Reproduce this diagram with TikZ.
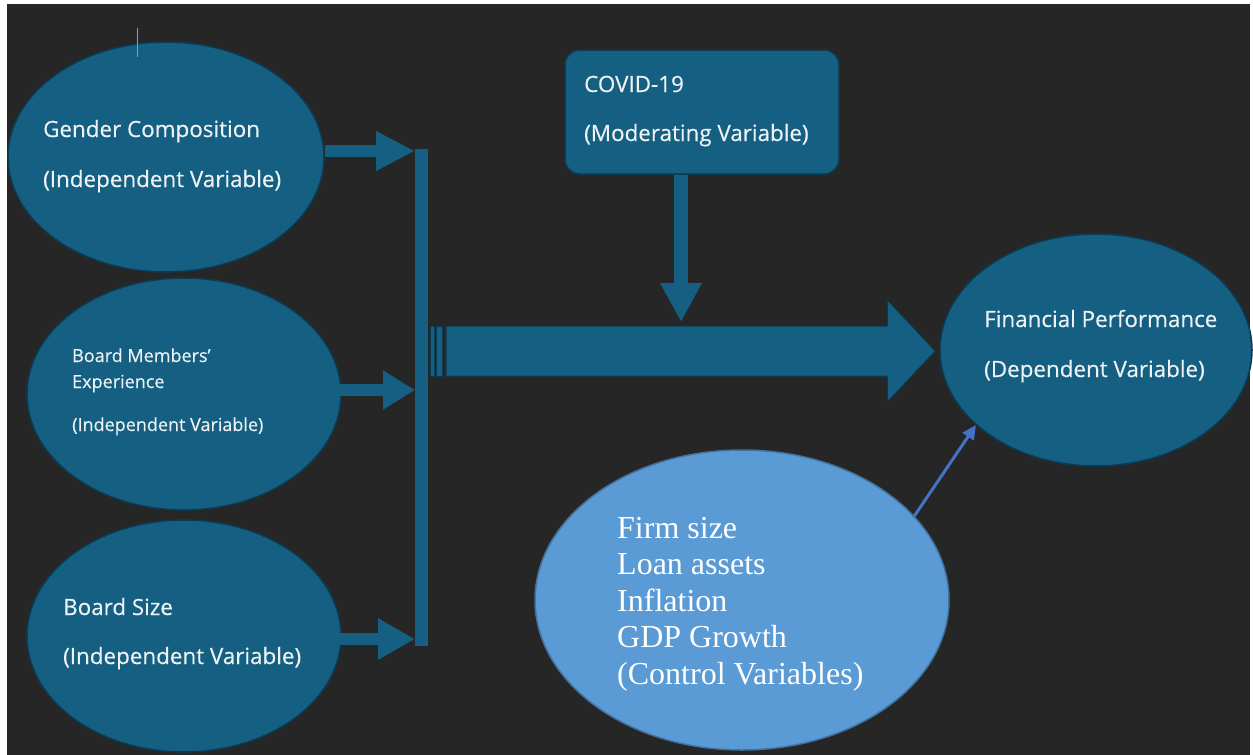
\documentclass[tikz,border=0pt]{standalone}
\usepackage{fontspec}
\setmainfont{Liberation Serif}
\newfontfamily\labelfont[FakeBold=0.3]{Open Sans}
\usetikzlibrary{shapes.geometric,arrows.meta,calc}

\definecolor{bgdark}{HTML}{262626}
\definecolor{tealfill}{HTML}{156082}
\definecolor{tealedge}{HTML}{0C3A50}
\definecolor{ctrlfill}{HTML}{5B9BD5}
\definecolor{ctrledge}{HTML}{41719C}
\definecolor{linkblue}{HTML}{4472C4}
\definecolor{lighttext}{HTML}{EEF2F5}

\begin{document}
\begin{tikzpicture}[x=1pt,y=-1pt,
  varell/.style={ellipse, fill=tealfill, draw=tealedge, line width=1.5pt, inner sep=0pt},
  vartext/.style={anchor=base west, inner sep=0pt, text=lighttext,
    font=\labelfont\fontsize{22.4}{27}\selectfont},
  smalltext/.style={vartext, font=\labelfont\fontsize{18}{22}\selectfont},
  ctrltext/.style={anchor=base west, inner sep=0pt, text=white,
    font=\fontsize{32}{36}\selectfont},
  feed/.style={tealfill, line width=#1},
  blockedge/.style={fill=tealfill, draw=tealedge, line width=1pt},
]
% canvas
\useasboundingbox (0,0) rectangle (1253,755);
\fill[white] (0,0) rectangle (1253,755);
\fill[bgdark] (7,4) rectangle (1250,755);

% independent variables
\node[varell, minimum width=316pt, minimum height=230pt] (gender) at (166,157) {};
\node[varell, minimum width=314pt, minimum height=232pt] (exper) at (184,394) {};
\node[varell, minimum width=314pt, minimum height=232pt] (bsize) at (184,636) {};

\node[vartext] (gender1) at (43,137) {Gender Composition};
\node[vartext] (gender2) at (43,187) {(Independent Variable)};
\node[smalltext] (exper1) at (72,362) {Board Members’};
\node[smalltext] (exper2) at (72,388) {Experience};
\node[smalltext] (exper3) at (72,431) {(Independent Variable)};
\node[vartext] (bsize1) at (63,615) {Board Size};
\node[vartext] (bsize2) at (63,664) {(Independent Variable)};

% collecting bar
\node[fill=tealfill, inner sep=0pt, minimum width=13pt, minimum height=497pt] (bar) at (421.5,397.5) {};

% feeds into the bar
\coordinate (t1) at (415,151);
\coordinate (t2) at (415,390);
\coordinate (t3) at (415,639);
\draw[feed=12pt, -{Triangle[length=39pt,width=37pt]}] (gender.east |- t1) -- (t1);
\draw[feed=12pt, -{Triangle[length=32pt,width=37pt]}] ([xshift=-2pt]exper.east |- t2) -- (t2);
\draw[feed=12pt, -{Triangle[length=37pt,width=39pt]}] ([xshift=-2pt]bsize.east |- t3) -- (t3);

% dependent variable
\node[varell, minimum width=312pt, minimum height=232pt] (perf) at (1096,350) {};
\node[vartext] (perf1) at (984,327) {Financial Performance};
\node[vartext] (perf2) at (984,377) {(Dependent Variable)};

% main striped block arrow
\coordinate (bigtip) at ($(perf.west)+(-4,1)$);
\coordinate (bigtail) at (bar.east |- bigtip);
\filldraw[blockedge] ($(bigtail)+(2,-25)$) rectangle ($(bigtail)+(6,25)$);
\filldraw[blockedge] ($(bigtail)+(8.5,-25)$) rectangle ($(bigtail)+(14,25)$);
\filldraw[blockedge] ($(bigtail)+(18,-25)$) -- ($(bigtip)+(-48,-25)$) -- ($(bigtip)+(-48,-51)$)
  -- (bigtip) -- ($(bigtip)+(-48,51)$) -- ($(bigtip)+(-48,25)$) -- ($(bigtail)+(18,25)$) -- cycle;

% moderating variable
\node[rounded corners=15pt, fill=tealfill, draw=tealedge, line width=1.5pt,
  minimum width=274pt, minimum height=124pt, inner sep=0pt] (covid) at (702,112) {};
\node[vartext] (covid1) at (584,92) {COVID-19};
\node[vartext] (covid2) at (584,141) {(Moderating Variable)};
\coordinate (mtip) at (681,322);
\draw[feed=14pt, -{Triangle[length=39pt,width=39pt]}] (covid.south -| mtip) -- (mtip);

% control variables
\node[ellipse, fill=ctrlfill, draw=ctrledge, line width=1.5pt, inner sep=0pt,
  minimum width=414pt, minimum height=300pt] (ctrl) at (742,600) {};
\node[ctrltext] (ctrl1) at (617,538) {Firm size};
\node[ctrltext] (ctrl2) at (617,574.5) {Loan assets};
\node[ctrltext] (ctrl3) at (617,611) {Inflation};
\node[ctrltext] (ctrl4) at (617,647.5) {GDP Growth};
\node[ctrltext] (ctrl5) at (617,684) {(Control Variables)};
\draw[linkblue, line width=3pt, -{Triangle[length=14pt,width=13pt]}] (ctrl.26) -- (perf.212);

% text cursor mark
\draw[gray!80, line width=1pt] (137,28) -- (137,57);
\end{tikzpicture}
\end{document}
